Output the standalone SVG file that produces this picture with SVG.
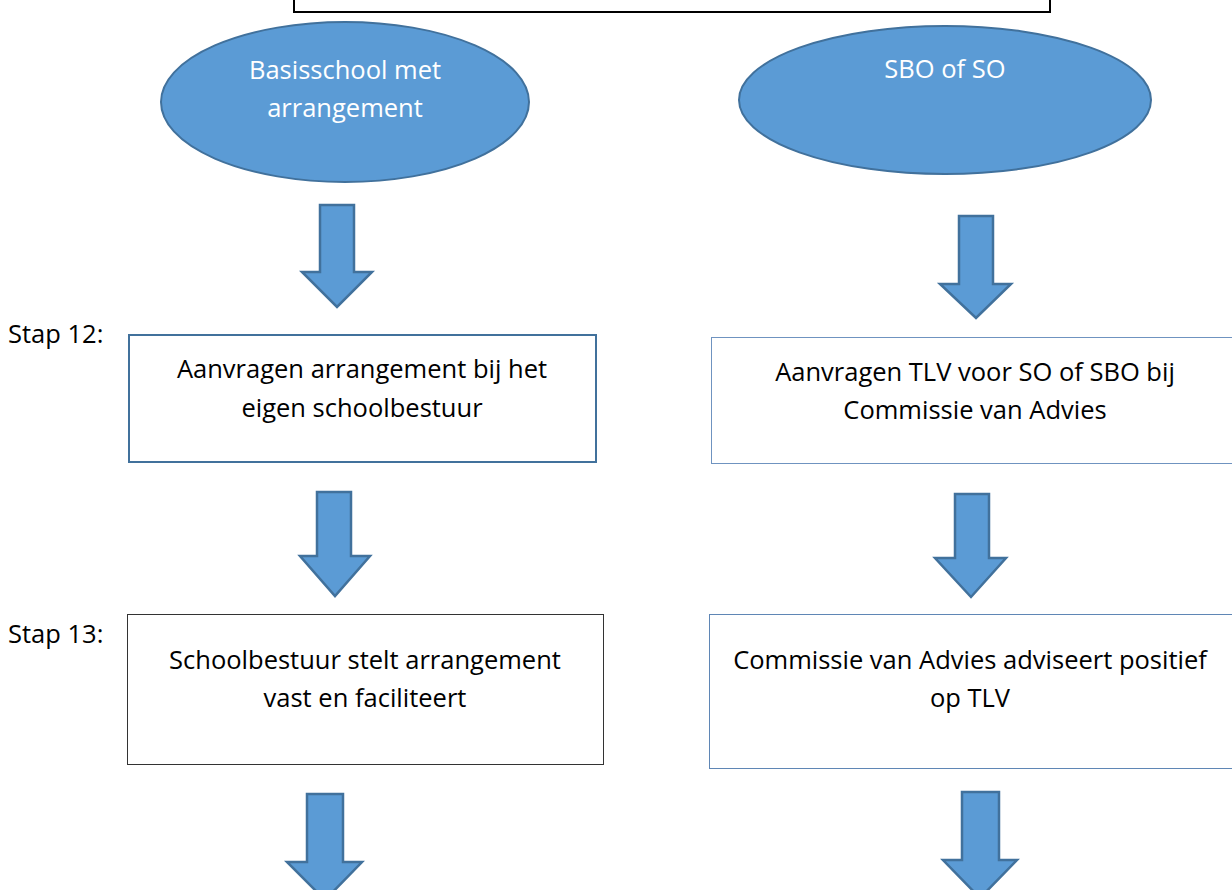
<svg xmlns="http://www.w3.org/2000/svg" width="1232" height="890" viewBox="0 0 1232 890">
<style>
.ell{fill:#5b9bd5;stroke:#41719c;stroke-width:2}
.arr{fill:#5b9bd5;stroke:#41719c;stroke-width:2.5;stroke-linejoin:miter}
.t{font-family:"Open Sans","Liberation Sans",sans-serif;font-size:25.5px;fill:#000;text-anchor:middle}
.tw{font-family:"Open Sans","Liberation Sans",sans-serif;font-size:25.5px;fill:#fff;text-anchor:middle}
.lbl{font-family:"Open Sans","Liberation Sans",sans-serif;font-size:25.5px;fill:#000}
</style>
<rect width="1232" height="890" fill="#fff"/>
<g id="topbox"><rect x="294" y="-10" width="756" height="22" fill="#fff" stroke="#000" stroke-width="2"/></g>
<g id="ellipse1"><ellipse class="ell" cx="345" cy="102" rx="184" ry="80"/>
<text class="tw" x="345" y="79">Basisschool met</text><text class="tw" x="345" y="117">arrangement</text></g>
<g id="ellipse2"><ellipse class="ell" cx="945" cy="100" rx="206" ry="74"/>
<text class="tw" x="945" y="78">SBO of SO</text></g>
<g id="label12"><text class="lbl" x="8" y="343">Stap 12:</text></g>
<g id="label13"><text class="lbl" x="8" y="643">Stap 13:</text></g>
<g id="box1"><rect x="129" y="335" width="467" height="127" fill="#fff" stroke="#41719c" stroke-width="2"/>
<text class="t" x="362" y="378">Aanvragen arrangement bij het</text><text class="t" x="362" y="417">eigen schoolbestuur</text></g>
<g id="box2"><rect x="711.5" y="337.5" width="530" height="126" fill="#fff" stroke="#6f93c0" stroke-width="1"/>
<text class="t" x="975" y="381">Aanvragen TLV voor SO of SBO bij</text><text class="t" x="975" y="419">Commissie van Advies</text></g>
<g id="box3"><rect x="127.5" y="614.5" width="476" height="150" fill="#fff" stroke="#333" stroke-width="1"/>
<text class="t" x="365" y="669">Schoolbestuur stelt arrangement</text><text class="t" x="365" y="707">vast en faciliteert</text></g>
<g id="box4"><rect x="709.5" y="614.5" width="530" height="154" fill="#fff" stroke="#5f86b5" stroke-width="1"/>
<text class="t" x="970" y="669">Commissie van Advies adviseert positief</text><text class="t" x="970" y="707">op TLV</text></g>
<g id="connectors">
<polygon class="arr" points="320,205 354,205 354,272 372,272 337,307 302,272 320,272"/>
<polygon class="arr" points="959,216 993,216 993,284 1011,284 976,318 940,284 959,284"/>
<polygon class="arr" points="317,492 351,492 351,556 370,556 335,596 300,556 317,556"/>
<polygon class="arr" points="955,494 989,494 989,558 1006,558 971,597 935,558 955,558"/>
<polygon class="arr" points="307,794 343,794 343,862 362,862 325,900 287,862 307,862"/>
<polygon class="arr" points="962,792 999,792 999,860 1017,860 980,898 943,860 962,860"/>
</g>
</svg>
